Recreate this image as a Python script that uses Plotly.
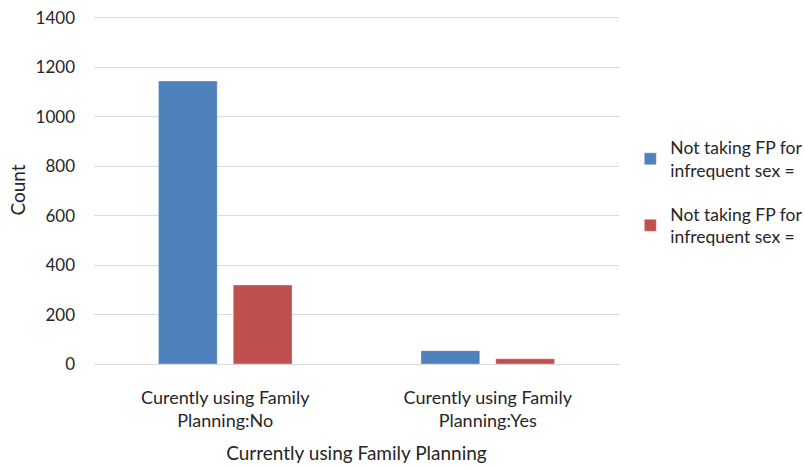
import plotly.graph_objects as go

categories = ["Curently using Family<br>Planning:No", "Curently using Family<br>Planning:Yes"]
series_names = ["Not taking FP for<br>infrequent sex =", "Not taking FP for<br>infrequent sex ="]
series1 = [1145, 54]
series2 = [320, 21]
y_ticks = [0, 200, 400, 600, 800, 1000, 1200, 1400]

colors = ["#4F81BD", "#C0504D"]
FONT = "Lato"

fig = go.Figure()
for i, (name, vals, col) in enumerate(zip(series_names, [series1, series2], colors)):
    fig.add_trace(go.Bar(
        x=categories, y=vals, name=name, legendgroup=f"g{i}",
        marker=dict(color=col, line=dict(color="rgba(255,255,255,0.35)", width=1)),
    ))

fig.update_layout(
    width=805, height=469,
    margin=dict(l=94, r=186, t=16, b=105, autoexpand=False),
    paper_bgcolor="white", plot_bgcolor="white",
    barmode="group", bargap=0.43, bargroupgap=0.214,
    font=dict(family=FONT, size=17, color="#262626"),
    showlegend=True,
    legend=dict(xref="container", yref="container", x=0.783, xanchor="left",
                y=1 - 192 / 469, yanchor="middle",
                font=dict(family=FONT, size=17.5, color="#262626"),
                tracegroupgap=18, itemwidth=30, bgcolor="rgba(0,0,0,0)"),
    xaxis=dict(
        title=dict(text="Currently using Family Planning", font=dict(size=19), standoff=16),
        showgrid=False, showline=False, zeroline=False, automargin=False,
        tickfont=dict(size=18), ticklabelstandoff=21,
    ),
    yaxis=dict(
        title=dict(text="Count", font=dict(size=19), standoff=4),
        range=[0, 1408], tickvals=y_ticks, automargin=False,
        showgrid=True, gridcolor="#D9D9D9", gridwidth=1,
        zeroline=True, zerolinecolor="#D9D9D9", zerolinewidth=1,
        showline=False, tickfont=dict(size=17), ticklabelstandoff=18,
    ),
)

fig.write_html("out.html", config={"displayModeBar": False},
               post_script="document.body.style.margin='0px';")
